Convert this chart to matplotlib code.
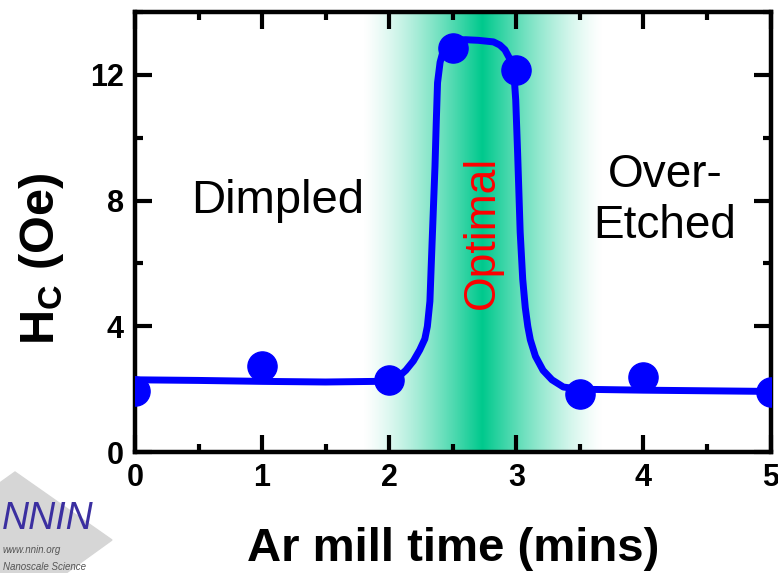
import numpy as np
import matplotlib
matplotlib.use("Agg")
import matplotlib.pyplot as plt
from matplotlib.colors import LinearSegmentedColormap
from matplotlib.patches import Polygon
from matplotlib.ticker import MultipleLocator

plt.rcParams['font.family'] = ['Liberation Sans', 'DejaVu Sans']
plt.rcParams['mathtext.fontset'] = 'custom'
plt.rcParams['mathtext.rm'] = 'Liberation Sans:bold'
plt.rcParams['mathtext.bf'] = 'Liberation Sans:bold'

# measured coercivity
mill_time = [0, 1, 2, 2.5, 3, 3.5, 4, 5]
hc = [1.95, 2.75, 2.28, 12.85, 12.15, 1.85, 2.38, 1.92]

# guide-to-the-eye curve
curve_t = [0, 0.5, 1.0, 1.5, 1.9, 2.0, 2.08, 2.13, 2.19, 2.24, 2.28, 2.30, 2.32,
           2.33, 2.345, 2.36, 2.37, 2.38, 2.40, 2.42, 2.46, 2.5, 2.6, 2.7, 2.82,
           2.87, 2.91, 2.95, 2.98, 2.995, 3.01, 3.03, 3.05, 3.07, 3.09, 3.11,
           3.15, 3.21, 3.28, 3.37, 3.5, 4.0, 4.5, 5.0]
curve_hc = [2.3, 2.28, 2.25, 2.23, 2.25, 2.3, 2.42, 2.6, 2.9, 3.25, 3.6, 4.0, 4.8,
            5.9, 7.5, 9.1, 10.5, 11.75, 12.4, 12.7, 12.95, 13.1, 13.12, 13.1, 13.05,
            12.95, 12.8, 12.5, 12.1, 11.2, 9.5, 7.0, 5.5, 4.6, 4.0, 3.57,
            3.05, 2.6, 2.3, 2.07, 2.0, 1.97, 1.95, 1.93]

regions = ["Dimpled", "Optimal", "Over-\nEtched"]

fig = plt.figure(figsize=(7.78, 5.73), dpi=100)
ax = fig.add_axes([0.1735, 0.211, 0.817, 0.768])

# green "optimal" band
band = np.linspace(1.8, 3.7, 400)
strength = np.clip(1 - np.abs(band - 2.73) / 0.95, 0, 1) ** 1.35
green = LinearSegmentedColormap.from_list("band", ["#ffffff", "#00c98d"])
ax.imshow(strength[np.newaxis, :], cmap=green, vmin=0, vmax=1, aspect='auto',
          extent=[1.8, 3.7, 0, 14], zorder=0, interpolation='bilinear')

ax.plot(curve_t, curve_hc, color='#0000ff', lw=5, solid_joinstyle='round',
        solid_capstyle='round', zorder=3)
ax.plot(mill_time, hc, 'o', color='#0000ff', ms=21, zorder=4)

ax.set_xlim(0, 5)
ax.set_ylim(0, 14)
ax.xaxis.set_major_locator(MultipleLocator(1))
ax.xaxis.set_minor_locator(MultipleLocator(0.5))
ax.yaxis.set_major_locator(MultipleLocator(4))
ax.yaxis.set_minor_locator(MultipleLocator(2))
ax.tick_params(which='both', direction='in', top=True, right=True, width=3,
               labelsize=22, pad=8)
ax.tick_params(which='major', length=12)
ax.tick_params(which='minor', length=6)
for lab in ax.get_xticklabels() + ax.get_yticklabels():
    lab.set_fontweight('bold')
for sp in ax.spines.values():
    sp.set_linewidth(3.2)

ax.set_xlabel("Ar mill time (mins)", fontsize=34, fontweight='bold', labelpad=24)
# y label sits a little below the axis centre in the original
fig.text(42 / 778, 1 - 259 / 573, r"H$_\mathregular{C}$ (Oe)", fontsize=35,
         fontweight='bold', rotation=90, ha='center', va='center')

ax.text(1.12, 8.0, regions[0], fontsize=34, ha='center', va='center')
ax.text(2.73, 7.0, regions[1], fontsize=32, color='red', rotation=90,
        ha='center', va='center')
ax.text(4.17, 8.0, regions[2], fontsize=33, ha='center', va='center',
        linespacing=1.2)

# NNIN logo in the lower-left corner
diamond = Polygon([[15 / 778, 1 - 472 / 573], [112 / 778, 1 - 540 / 573],
                   [15 / 778, 1 - 610 / 573], [-80 / 778, 1 - 540 / 573]],
                  closed=True, transform=fig.transFigure, color='#d6d6d6',
                  zorder=0)
fig.patches.append(diamond)
fig.text(2 / 778, 1 - 529 / 573, "NNIN", fontsize=27, style='italic',
         color='#3b2fa0', va='baseline')
fig.text(3 / 778, 1 - 553 / 573, "www.nnin.org", fontsize=7, color='#555555',
         style='italic', va='baseline')
fig.text(3 / 778, 1 / 573, "Nanoscale Science", fontsize=7, color='#555555',
         style='italic', va='bottom')

fig.savefig("out.png", dpi=100)
